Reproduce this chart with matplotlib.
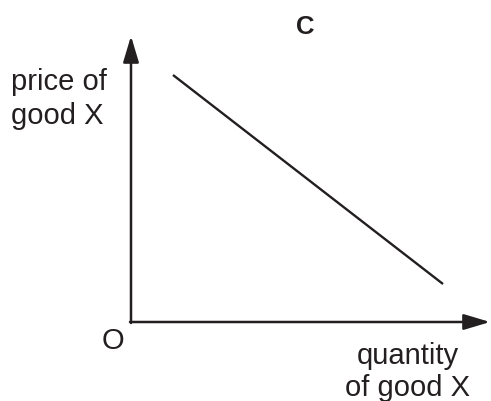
import matplotlib
matplotlib.use("Agg")
from matplotlib import pyplot as plt

plt.rcParams['font.family'] = ['Liberation Sans', 'DejaVu Sans']

# demand line (quantity, price) in diagram units, origin at O
demand_q = [42, 312]
demand_p = [247, 38]

x_axis_end = 359
y_axis_end = 286

ink = '#231f20'

fig = plt.figure(figsize=(4.91, 4.01), dpi=100)
ax = fig.add_axes([0, 0, 1, 1])
ax.set_xlim(-131, 360)
ax.set_ylim(-79, 322)
ax.axis('off')

arrow = dict(arrowstyle='-|>,head_length=1.6,head_width=0.48', lw=1.8,
             color=ink, mutation_scale=10, shrinkA=0, shrinkB=0)
ax.annotate('', xy=(0, y_axis_end), xytext=(0, -1), arrowprops=arrow)
ax.annotate('', xy=(x_axis_end, 0), xytext=(-1, 0), arrowprops=arrow)

ax.plot(demand_q, demand_p, color=ink, lw=1.7, solid_capstyle='butt')

ax.text(174, 295, 'C', fontsize=18.5, fontweight='bold', color=ink,
        ha='center', va='center')
ax.text(-18, -19, 'O', fontsize=21, color=ink, ha='center', va='center')
ax.text(-120, 223, 'price of\ngood X', fontsize=21, color=ink,
        ha='left', va='center', linespacing=1.3)
ax.text(277, -50, 'quantity\nof good X', fontsize=21, color=ink,
        ha='center', va='center', linespacing=1.2)

fig.savefig('out.png', dpi=100)
